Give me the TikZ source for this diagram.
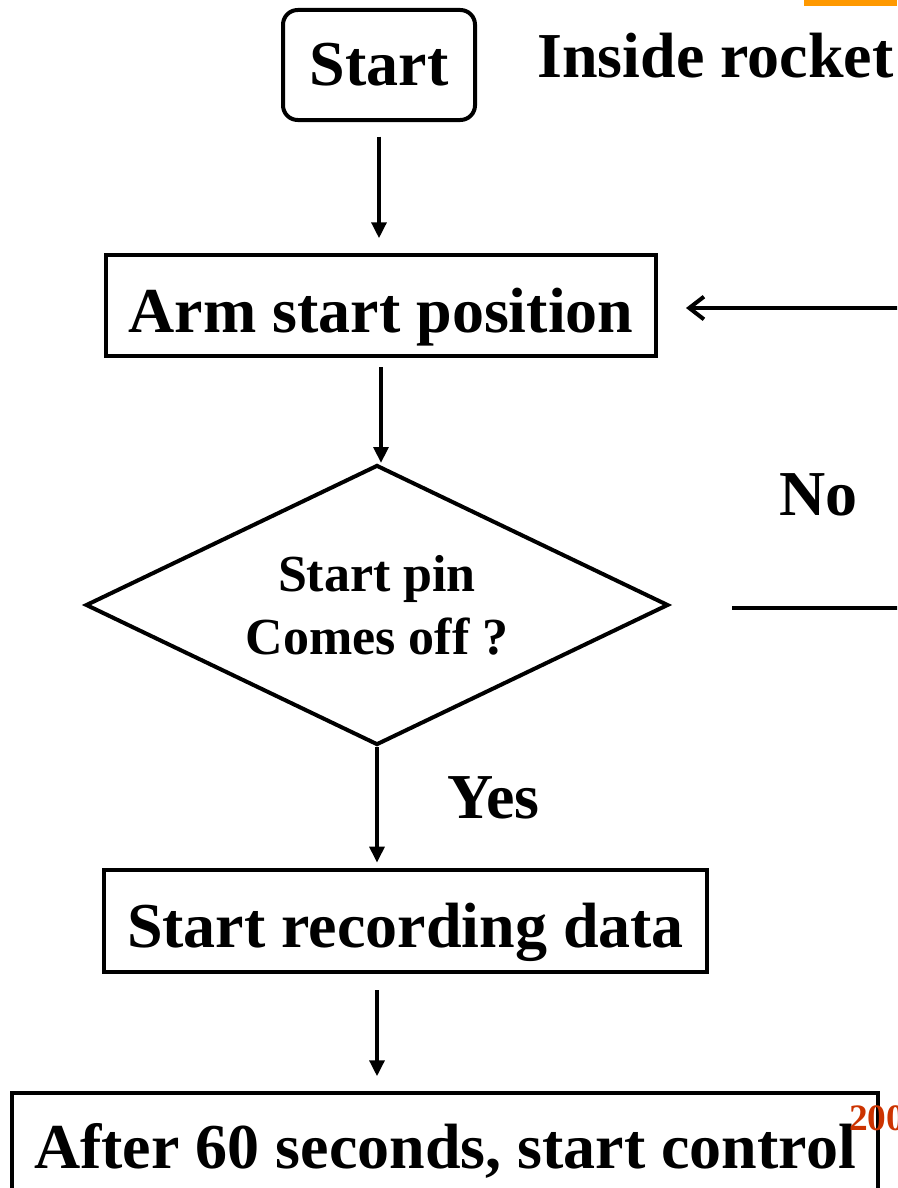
\documentclass[tikz,border=0pt]{standalone}
\usepackage{fontspec}
\setmainfont{Liberation Serif}
\usetikzlibrary{arrows,arrows.meta,positioning,shapes.geometric}
\definecolor{slideorange}{RGB}{255,153,0}
\definecolor{yearred}{RGB}{204,51,0}
\tikzset{>={Triangle[length=12pt,width=11pt]}}
\tikzset{
  big/.style={font=\fontsize{48}{56}\selectfont\bfseries},
  block/.style={draw,line width=3pt,big,inner sep=0pt,text height=39.75pt,text depth=0pt},
  startbox/.style={block,rounded corners=11pt,minimum width=144pt,minimum height=82.5pt,text height=30pt},
  decision/.style={diamond,aspect=2.08,draw,line width=3pt,inner sep=0pt,align=center,
    minimum width=437pt,minimum height=210pt,font=\fontsize{39}{47}\selectfont\bfseries},
  flow/.style={->,line width=3pt},
  backflow/.style={-{Straight Barb[length=11pt,width=17pt,line width=3pt]},line width=3pt}
}

\begin{document}
\begin{tikzpicture}[x=0.75pt,y=-0.75pt]
    \clip (0,0) rectangle (897,1188);
    \fill[slideorange] (804,0) rectangle (897,6);
    \node[startbox] (start) at (379,65) {Start};
    \node[big,anchor=base west,inner sep=0pt] (title) at (537,78) {Inside rocket};
    \node[block,minimum width=412.5pt,minimum height=75.75pt] (arm) at (381,305.5) {Arm start position};
    \node[decision] (pin) at (377,605) {Start pin\\Comes off ?};
    \node[block,minimum width=452.25pt,minimum height=76.5pt] (rec) at (405.5,921) {Start recording data};
    \node[block,minimum width=649.5pt,minimum height=73.5pt] (ctrl) at (445,1142) {After 60 seconds, start control};
    \node[big,anchor=base west,inner sep=0pt] (no) at (779,515) {No};
    \node[big,anchor=base west,inner sep=0pt] (yes) at (447,818) {Yes};
    \node[anchor=base west,inner sep=0pt,text=yearred,font=\fontsize{28}{30}\selectfont\bfseries] (year) at (849,1130) {200};
    \coordinate (back) at (905,308);
    \coordinate (noend) at (905,608);
    % flow
    \draw[flow,shorten <=11pt,shorten >=11pt] (start.south) -- (start.south |- arm.north);
    \draw[flow,shorten <=7pt] (arm.south) -- (arm.south |- pin.north);
    \draw[flow,shorten >=4pt] (pin.south) -- (pin.south |- rec.north);
    \draw[flow,shorten <=12pt,shorten >=11pt] (rec.south -| pin.south) -- (pin.south |- ctrl.north);
    \draw[backflow,shorten >=21pt] (back) -- (arm.east |- back);
    \draw[line width=3pt,shorten >=46pt] (noend) -- (pin.east |- noend);
\end{tikzpicture}
\end{document}
